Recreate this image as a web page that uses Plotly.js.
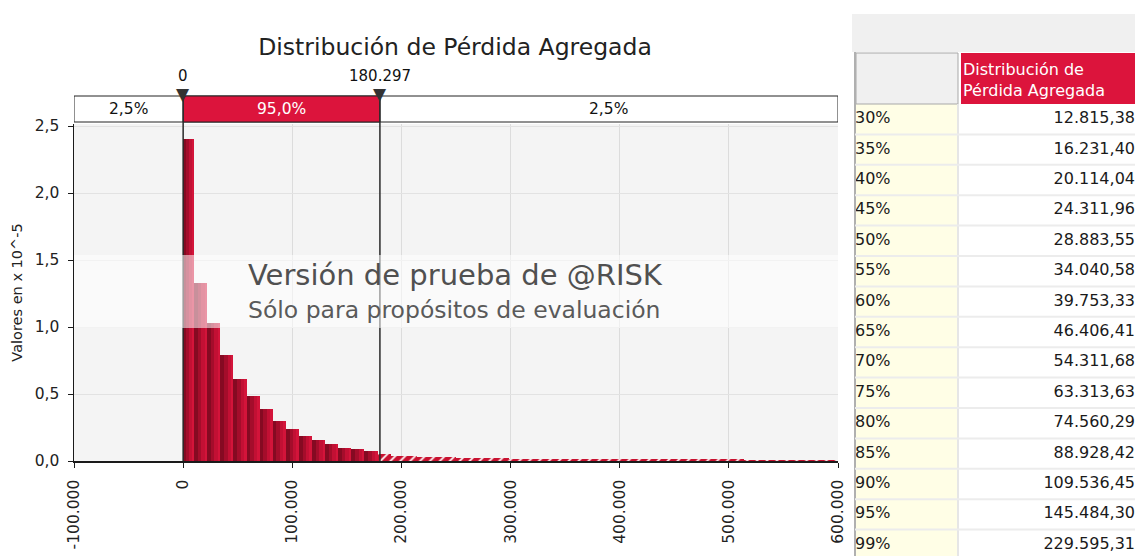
<!DOCTYPE html>
<html><head><meta charset="utf-8">
<script src="https://cdn.plot.ly/plotly-3.0.1.min.js"></script>
<style>html,body{margin:0;padding:0;background:#fff;overflow:hidden}#chart{width:1135px;height:556px}</style>
</head><body><div id="chart"></div>
<script>
// ---------- data ----------
const chartTitle = 'Distribución de Pérdida Agregada';
const yAxisTitle = 'Valores en x 10^-5';
// histogram densities (x 10^-5), one per bin
const densities = [2.40, 1.33, 1.03, 0.79, 0.612, 0.487, 0.386, 0.296, 0.236, 0.185,
  0.160, 0.124, 0.098, 0.086, 0.071, 0.050, 0.040, 0.036, 0.032, 0.030,
  0.028, 0.025, 0.022, 0.020, 0.019, 0.018, 0.017, 0.016, 0.016, 0.015,
  0.015, 0.014, 0.014, 0.014, 0.013, 0.013, 0.013, 0.013, 0.012, 0.012,
  0.012, 0.012, 0.012, 0.011, 0.011, 0.011, 0.011, 0.011, 0.011, 0.010];
const firstBinStart = 0, firstBinEnd = 10100, binWidth = 12000;
const pctLow = 0, pctHigh = 180297;
const pctMarkLabels = ['0', '180.297'];
const pctShares = ['2,5%', '95,0%', '2,5%'];
const xRange = [-100000, 600000];
const xTickVals = [-100000, 0, 100000, 200000, 300000, 400000, 500000, 600000];
const xTickText = ['-100.000', '0', '100.000', '200.000', '300.000', '400.000', '500.000', '600.000'];
const yTickVals = [0, 0.5, 1, 1.5, 2, 2.5];
const yTickText = ['0,0', '0,5', '1,0', '1,5', '2,0', '2,5'];
const watermarkLines = ['Versión de prueba de @RISK', 'Sólo para propósitos de evaluación'];
const tableHeader = 'Distribución de<br>Pérdida Agregada';
const rowLabels = ['30%', '35%', '40%', '45%', '50%', '55%', '60%', '65%', '70%', '75%', '80%', '85%', '90%', '95%', '99%'];
const rowValues = ['12.815,38', '16.231,40', '20.114,04', '24.311,96', '28.883,55', '34.040,58', '39.753,33',
  '46.406,41', '54.311,68', '63.313,63', '74.560,29', '88.928,42', '109.536,45', '145.484,30', '229.595,31'];

// ---------- geometry / style ----------
const W = 1135, H = 556;
const px = v => v / W, py = v => 1 - v / H;
const FONT = 'DejaVu Sans, Noto Sans, sans-serif';
const CRIMSON = '#DC143C';

// bins
const lefts = [], widths = [];
densities.forEach((d, i) => {
  const l = i === 0 ? firstBinStart : firstBinEnd + (i - 1) * binWidth;
  const r = i === 0 ? firstBinEnd : l + binWidth;
  lefts.push(l); widths.push(r - l);
});
const nSolid = lefts.filter((l, i) => l + widths[i] <= pctHigh).length;

const traces = [];
const strips = [[1, '#850a22'], [0.72, '#a40d2b'], [0.45, '#c21034'], [0.2, '#d3143a']];
strips.forEach(([f, c]) => {
  traces.push({
    type: 'bar', x: lefts.slice(0, nSolid), y: densities.slice(0, nSolid),
    width: widths.slice(0, nSolid).map(w => w * f),
    offset: widths.slice(0, nSolid).map(w => w * (1 - f)),
    marker: {color: c, line: {width: 0}}, hoverinfo: 'skip', showlegend: false
  });
});
traces.push({
  type: 'bar', x: lefts.slice(nSolid), y: densities.slice(nSolid),
  width: widths.slice(nSolid), offset: widths.slice(nSolid).map(() => 0),
  marker: {color: '#c8102e', line: {width: 0},
    pattern: {shape: '/', fillmode: 'replace', bgcolor: '#c8102e', fgcolor: '#ffffff', size: 7, solidity: 0.25}},
  hoverinfo: 'skip', showlegend: false
});
// table text
const TFONT = {family: FONT, size: 16, color: '#1a1a1a'};
traces.push({
  type: 'scatter', mode: 'text', xaxis: 'x3', yaxis: 'y3',
  x: rowLabels.map(() => 0.0), y: rowLabels.map((_, i) => i + 0.5), text: rowLabels,
  textposition: 'middle right', textfont: TFONT,
  cliponaxis: false, hoverinfo: 'skip', showlegend: false
});
traces.push({
  type: 'scatter', mode: 'text', xaxis: 'x3', yaxis: 'y3',
  x: rowValues.map(() => 1), y: rowValues.map((_, i) => i + 0.5), text: rowValues,
  textposition: 'middle left', textfont: TFONT,
  cliponaxis: false, hoverinfo: 'skip', showlegend: false
});

const bandTop = py(96), bandBot = py(122);
const colDiv = (958 - 855) / (W - 855);
const nRowsVisible = (H - 104) / 30.4;

const shapes = [
  // plot background
  {type: 'rect', xref: 'x domain', yref: 'y domain', x0: 0, x1: 1, y0: 0, y1: 1, fillcolor: '#f4f4f4', line: {width: 0}, layer: 'below'},
  // percentile band
  {type: 'rect', xref: 'x', yref: 'paper', x0: xRange[0], x1: xRange[1], y0: bandBot, y1: bandTop, fillcolor: '#ffffff', line: {color: '#222', width: 1}},
  {type: 'rect', xref: 'x', yref: 'paper', x0: pctLow, x1: pctHigh, y0: bandBot, y1: bandTop, fillcolor: CRIMSON, line: {color: '#222', width: 1}},
  {type: 'line', xref: 'x', yref: 'paper', x0: pctLow, x1: pctLow, y0: py(461), y1: bandTop, line: {color: '#2a2a2a', width: 1.5}},
  {type: 'line', xref: 'x', yref: 'paper', x0: pctHigh, x1: pctHigh, y0: py(461), y1: bandTop, line: {color: '#2a2a2a', width: 1.5}},
  // watermark band
  {type: 'rect', xref: 'x domain', yref: 'paper', x0: 0, x1: 1, y0: py(328), y1: py(255), fillcolor: 'rgba(255,255,255,0.55)', line: {width: 0}},
  // table
  {type: 'rect', xref: 'paper', yref: 'paper', x0: px(852), x1: 1, y0: py(52), y1: py(14), fillcolor: '#f0f0f0', line: {width: 0}},
  {type: 'rect', xref: 'paper', yref: 'paper', x0: px(856), x1: px(958), y0: py(104), y1: py(53), fillcolor: '#f0f0f0', line: {color: '#a8a8a8', width: 1}},
  {type: 'rect', xref: 'paper', yref: 'paper', x0: px(961), x1: 1.01, y0: py(104), y1: py(53), fillcolor: CRIMSON, line: {width: 0}},
  {type: 'rect', xref: 'x3', yref: 'y3', x0: 0, x1: colDiv, y0: 0, y1: rowLabels.length, fillcolor: '#fffee6', line: {width: 0}, layer: 'below'},
  {type: 'line', xref: 'x3', yref: 'y3', x0: colDiv, x1: colDiv, y0: 0, y1: nRowsVisible, line: {color: '#e6e6e6', width: 2}},
  {type: 'line', xref: 'paper', yref: 'paper', x0: px(855), x1: px(855), y0: 0, y1: py(52), line: {color: '#b0b0b0', width: 2}}
];
rowLabels.forEach((_, i) => {
  shapes.push({type: 'line', xref: 'x3', yref: 'y3', x0: 0, x1: 1, y0: i + 1, y1: i + 1, line: {color: '#ececec', width: 2}});
});

const ann = (o) => Object.assign({showarrow: false, xanchor: 'center', yanchor: 'middle'}, o);
const bandMid = (bandTop + bandBot) / 2;
const annotations = [
  ann({xref: 'x', yref: 'paper', x: (xRange[0] + pctLow) / 2, y: bandMid, text: pctShares[0], font: {family: FONT, size: 15.5, color: '#111'}}),
  ann({xref: 'x', yref: 'paper', x: (pctLow + pctHigh) / 2, y: bandMid, text: pctShares[1], font: {family: FONT, size: 15.5, color: '#fff'}}),
  ann({xref: 'x', yref: 'paper', x: (pctHigh + xRange[1]) / 2, y: bandMid, text: pctShares[2], font: {family: FONT, size: 15.5, color: '#111'}}),
  ann({xref: 'x', yref: 'paper', x: pctLow, y: py(76), text: pctMarkLabels[0], font: {family: FONT, size: 15, color: '#111'}}),
  ann({xref: 'x', yref: 'paper', x: pctHigh, y: py(76), text: pctMarkLabels[1], font: {family: FONT, size: 15, color: '#111'}}),
  ann({xref: 'x', yref: 'paper', x: pctLow, y: py(94), text: '▼', font: {family: 'DejaVu Sans', size: 17, color: '#333'}}),
  ann({xref: 'x', yref: 'paper', x: pctHigh, y: py(94), text: '▼', font: {family: 'DejaVu Sans', size: 17, color: '#333'}}),
  ann({xref: 'paper', yref: 'paper', x: px(246), y: py(275), xanchor: 'left', text: watermarkLines[0], font: {family: FONT, size: 29, color: '#505050'}}),
  ann({xref: 'paper', yref: 'paper', x: px(246), y: py(310), xanchor: 'left', text: watermarkLines[1], font: {family: FONT, size: 23.5, color: '#5a5a5a'}}),
  ann({xref: 'paper', yref: 'paper', x: px(961), y: py(80), xanchor: 'left', align: 'left', text: tableHeader, font: {family: FONT, size: 16, color: '#fff'}})
];

const layout = {
  width: W, height: H, margin: {l: 0, r: 0, t: 0, b: 0},
  paper_bgcolor: '#ffffff', plot_bgcolor: 'rgba(0,0,0,0)',
  font: {family: FONT, color: '#222'},
  title: {text: chartTitle, x: px(455), xanchor: 'center', y: py(47), yanchor: 'middle', font: {family: FONT, size: 23.5, color: '#222'}},
  barmode: 'overlay', bargap: 0, showlegend: false,
  xaxis: {domain: [px(74), px(838)], range: xRange, anchor: 'y', tickvals: xTickVals, ticktext: xTickText, tickangle: -90,
    showgrid: true, gridcolor: '#dcdcdc', gridwidth: 1, zeroline: false, showline: true, linecolor: '#1a1a1a', linewidth: 1.5,
    ticks: 'outside', ticklen: 5, tickcolor: '#1a1a1a', ticklabelstandoff: 6, tickfont: {family: FONT, size: 15.5, color: '#222'}, automargin: false, fixedrange: true},
  yaxis: {domain: [py(461), py(124)], range: [0, 2.515], anchor: 'x', tickvals: yTickVals, ticktext: yTickText,
    showgrid: true, gridcolor: '#e2e2e2', gridwidth: 1, zeroline: false, showline: true, linecolor: '#1a1a1a', linewidth: 1.5,
    ticks: 'outside', ticklen: 5, tickcolor: '#1a1a1a', ticklabelstandoff: 5, tickfont: {family: FONT, size: 15.5, color: '#222'},
    title: {text: yAxisTitle, font: {family: FONT, size: 14.5, color: '#222'}, standoff: 8}, automargin: false, fixedrange: true},
  xaxis3: {domain: [px(855), 1], range: [0, 1], anchor: 'y3', visible: false, fixedrange: true},
  yaxis3: {domain: [0, py(104)], range: [nRowsVisible, 0], anchor: 'x3', visible: false, fixedrange: true},
  shapes: shapes, annotations: annotations
};

Plotly.newPlot('chart', traces, layout, {staticPlot: true, displayModeBar: false});
</script></body></html>
